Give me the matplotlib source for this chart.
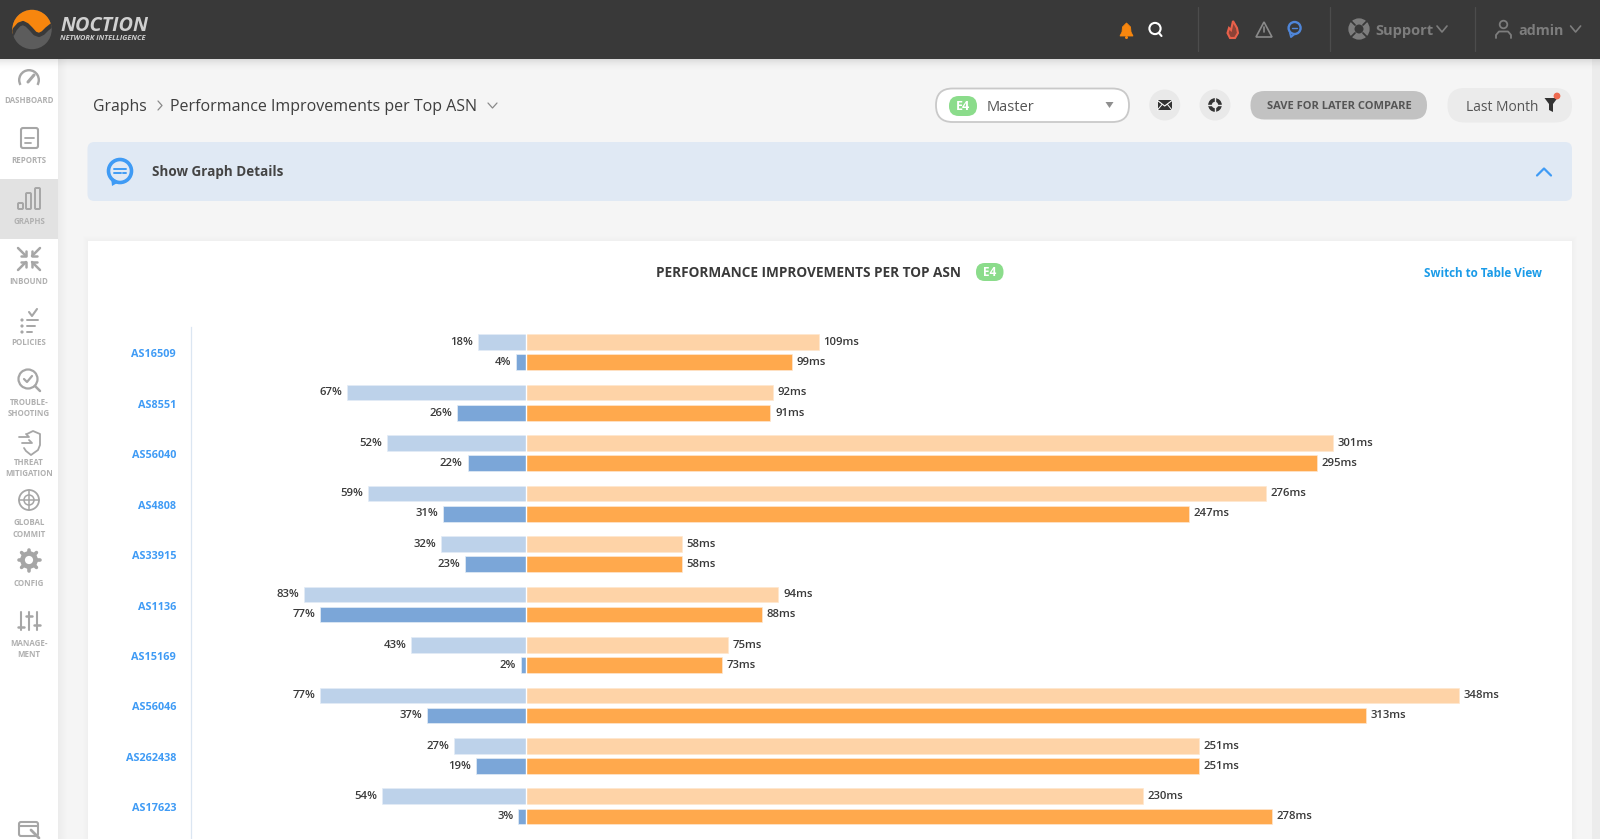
import numpy as np
from matplotlib import pyplot as plt
from matplotlib.patches import Circle, FancyBboxPatch, Polygon, Rectangle, Wedge
from matplotlib.transforms import ScaledTranslation

plt.rcParams["font.family"] = ["Open Sans", "DejaVu Sans"]

# chart values
asn_list = ["AS16509", "AS8551", "AS56040", "AS4808", "AS33915",
            "AS1136", "AS15169", "AS56046", "AS262438", "AS17623"]
pct_before = [18, 67, 52, 59, 32, 83, 43, 77, 27, 54]
pct_after = [4, 26, 22, 31, 23, 77, 2, 37, 19, 3]
ms_before = [109, 92, 301, 276, 58, 94, 75, 348, 251, 230]
ms_after = [99, 91, 295, 247, 58, 88, 73, 313, 251, 278]

side_labels = [("DASHBOARD", 100), ("REPORTS", 160), ("GRAPHS", 221), ("INBOUND", 281),
               ("POLICIES", 342), ("TROUBLE-", 402), ("SHOOTING", 413), ("THREAT", 462),
               ("MITIGATION", 473), ("GLOBAL", 522), ("COMMIT", 534), ("CONFIG", 583),
               ("MANAGE-", 643), ("MENT", 654)]

W, H = 1600, 839
ICON = "#a6a6a6"
HEAD = "#393939"

fig = plt.figure(figsize=(W / 100, H / 100), dpi=100, facecolor="#f5f5f5")

# page chrome lives in one full size axes, in pixels
bg = fig.add_axes([0, 0, 1, 1], zorder=1)
bg.set_xlim(0, W)
bg.set_ylim(H, 0)
bg.axis("off")


def box(x0, y0, x1, y1, color, r=0, ec="none", lw=0, z=2):
    if r:
        p = FancyBboxPatch((x0 + r, y0 + r), x1 - x0 - 2 * r, y1 - y0 - 2 * r,
                           boxstyle=f"round,pad={r}", fc=color, ec=ec, lw=lw, zorder=z)
    else:
        p = Rectangle((x0, y0), x1 - x0, y1 - y0, fc=color, ec=ec, lw=lw, zorder=z)
    bg.add_patch(p)


def label(x, y, s, size=9, color="#444444", weight="normal", ha="left", z=6, **kw):
    # open sans sits a bit high with va=center
    bg.text(x, y + 1.3, s, fontsize=size, color=color, fontweight=weight, ha=ha,
            va="center", zorder=z, **kw)


def line(xs, ys, color=ICON, lw=1.4, z=5):
    bg.plot(xs, ys, color=color, lw=lw, zorder=z, solid_capstyle="round",
            solid_joinstyle="round")


def ring(x, y, r, color=ICON, lw=1.4, fc="none", z=5):
    bg.add_patch(Circle((x, y), r, fc=fc, ec=color, lw=lw, zorder=z))


def chevron(x, y, w, h, color, lw=1.0, up=False, z=5):
    s = -1 if up else 1
    line([x - w, x, x + w], [y - s * h, y + s * h, y - s * h], color, lw, z)


def badge(x0, y0, x1, y1, size):
    box(x0, y0, x1, y1, "#8bdc8b", r=(y1 - y0) / 2 - 0.2, z=7)
    label((x0 + x1) / 2, (y0 + y1) / 2 - 1, "E4", size, "white", "bold", "center", z=8)


# card, side bar and header, with their soft shadows
box(88, 241, 1572, H + 5, "white")
for i in range(6):
    box(88 - 5 + i, 241 - 5 + i, 1572 + 5 - i, H + 5, "#000000", z=1.5)
    bg.patches[-1].set_alpha(0.004)
box(0, 58, 58, H, "white", z=3)
for i in range(9):
    box(58 + i, 58, 59 + i, H, "#000000", z=2.5)
    bg.patches[-1].set_alpha(0.035 * (1 - i / 9))
box(0, 179, 58, 239, "#e2e2e2", z=3.5)
box(1592, 58, 1600, H, "#ececec", z=3)
box(0, 0, W, 58.5, HEAD, z=9)
for i in range(12):
    box(0, 58.5 + i, W, 59.5 + i, "#000000", z=8)
    bg.patches[-1].set_alpha(0.10 * (1 - i / 12) ** 2)

# logo
logo = Circle((32, 29.5), 19.7, fc="#5c5c5c", ec="none", zorder=10)
bg.add_patch(logo)
wave_x = [12, 15, 19, 23, 27, 31, 35, 39, 43, 47, 52]
wave_y = [35, 29, 24.5, 23, 25, 29, 33.5, 35, 33, 29, 25]
top = Polygon(list(zip(wave_x, wave_y)) + [(52, 8), (12, 8)], fc="#f7860e", ec="none", zorder=11)
bg.add_patch(top)
top.set_clip_path(logo)
wave, = bg.plot(wave_x, wave_y, color=HEAD, lw=3, zorder=12)
wave.set_clip_path(logo)
label(60, 25, "NOCTION", 14.3, "#d0d0d0", "bold", z=12, style="italic")
label(60, 37, "NETWORK INTELLIGENCE", 5.3, "#d0d0d0", "bold", z=12, style="italic")

# header right side
for x in [1198, 1330, 1474.6]:
    line([x, x], [7, 51], "#4c4c4c", 0.9, z=10)
bg.add_patch(Polygon([(1120, 36), (1122, 32), (1122.5, 27), (1126.5, 23), (1130.5, 27),
                      (1131, 32), (1133, 36)], fc="#f7860e", ec="#f7860e", lw=0.6, zorder=10))
bg.add_patch(Circle((1126.5, 37.5), 1.5, fc="#f7860e", zorder=10))
ring(1155, 28.5, 5.6, "white", 1.5, z=10)
line([1159, 1161.5], [33, 36], "white", 1.5, z=10)
bg.add_patch(Polygon([(1233, 21), (1237, 28), (1238, 33), (1235, 38), (1230, 38), (1227.5, 33),
                      (1229, 28), (1231, 30)], fc="#8c4236", ec="#e8604a", lw=1.5, zorder=10))
bg.add_patch(Polygon([(1264, 22), (1272, 37), (1256, 37)], fc="none", ec="#8a8a8a", lw=1.2, zorder=10))
line([1264, 1264], [27, 32], "#8a8a8a", 1.2, z=10)
line([1264, 1264], [34.5, 34.8], "#8a8a8a", 1.2, z=10)
ring(1294.6, 28, 6, "#4f86d9", 1.7, z=10)
line([1290, 1291, 1294], [33, 37, 34.5], "#4f86d9", 1.4, z=10)
line([1292, 1297], [28, 28], "#4f86d9", 1.0, z=10)
ring(1359, 29, 7.6, "#7d7d7d", 4.4, z=10)
for sx in [-1, 1]:
    for sy in [-1, 1]:
        line([1359 + sx * 4, 1359 + sx * 7.5], [29 + sy * 4, 29 + sy * 7.5], HEAD, 1.3, z=10.5)
label(1375, 29.6, "Support", 10.5, "#7d7d7d", "bold", z=10)
chevron(1442, 29, 5, 3, "#7d7d7d", 1.2, z=10)
ring(1503.5, 24.5, 3.8, "#7d7d7d", 1.3, z=10)
line([1496, 1496, 1499, 1508, 1511, 1511], [38, 35, 31.5, 31.5, 35, 38], "#7d7d7d", 1.3, z=10)
label(1518.5, 29.6, "admin", 10.3, "#7d7d7d", "bold", z=10)
chevron(1575.6, 29, 5, 3, "#7d7d7d", 1.2, z=10)

# breadcrumb and toolbar
label(92.5, 105.8, "Graphs", 11.3, "#3f3f3f")
line([158, 162, 158], [101, 105.5, 110], "#8a8a8a", 0.9)
label(170.5, 105.8, "Performance Improvements per Top ASN", 11.55, "#3f3f3f")
chevron(492.5, 105.5, 4.5, 2.5, "#8a8a8a", 0.9)

box(936, 88.5, 1129, 122, "white", r=16.5, ec="#c9c9c9", lw=1.3)
badge(949, 96, 977, 116, 9)
label(987, 106, "Master", 10.5, "#555555")
bg.add_patch(Polygon([(1105.5, 102), (1113.5, 102), (1109.5, 108)], fc="#8f8f8f", zorder=5))
for cx in [1164.7, 1215]:
    bg.add_patch(Circle((cx, 105), 15.5, fc="#e9e9e9", zorder=4))
box(1157.5, 100, 1172, 110, "#333333", z=5)
line([1157.5, 1164.7, 1172], [100.5, 106, 100.5], "white", 0.8, z=6)
line([1157.5, 1162], [110, 104.5], "white", 0.7, z=6)
line([1172, 1167.5], [110, 104.5], "white", 0.7, z=6)
ring(1215, 105, 5, "#333333", 2.6)
line([1215, 1215], [98, 112], "#e9e9e9", 1.0, z=6)
line([1208, 1222], [105, 105], "#e9e9e9", 1.0, z=6)
box(1250.5, 91, 1427, 119.5, "#c2c2c2", r=14)
label(1339, 105, "SAVE FOR LATER COMPARE", 8.0, "#555555", "bold", "center")
box(1447.5, 88, 1572, 122.5, "#ebebeb", r=17)
label(1466, 106, "Last Month", 9.9, "#555555")
bg.add_patch(Polygon([(1544.5, 98), (1557.5, 98), (1553, 104), (1553, 112), (1549, 110), (1549, 104)],
                     fc="#333333", zorder=5))
bg.add_patch(Circle((1557, 96), 3.4, fc="#ee6a50", zorder=6))

# details panel
box(87.5, 142, 1572, 201, "#e0e9f4", r=7)
ring(120, 171, 11.5, "#3f9bf5", 2.6)
bg.add_patch(Polygon([(111, 177), (112, 186), (119, 182)], fc="#3f9bf5", zorder=5))
line([114, 126], [168.5, 168.5], "#3f9bf5", 1.4)
line([114, 121], [173, 173], "#3f9bf5", 1.4)
line([123, 126], [173, 173], "#3f9bf5", 1.4)
label(151.5, 170.8, "Show Graph Details", 9.75, "#444444", "bold")
chevron(1544, 172, 7, 3.5, "#3f9bf5", 1.6, up=True)

# card header
label(808, 271.3, "PERFORMANCE IMPROVEMENTS PER TOP ASN", 9.8, "#3a3a3a", "bold", "center")
badge(976, 263, 1003.5, 281, 8.5)
label(1542, 271.8, "Switch to Table View", 8.4, "#1a9be8", "bold", "right")

# side bar icons
for s, y in side_labels:
    label(29, y - 1, s, 5.7, "#b0b0b0", "bold", "center")
bg.add_patch(Wedge((29, 80), 11, 150, 390, width=2.4, fc=ICON, ec="none", zorder=5))
line([28, 34], [82, 75], ICON, 2.2)
box(21, 128, 38, 148, "white", r=2, ec=ICON, lw=1.5, z=5)
line([25, 34], [138, 138], ICON, 1.3)
line([25, 31], [143, 143], ICON, 1.3)
for x0, y0 in [(18, 203), (26, 193), (35, 188)]:
    box(x0, y0, x0 + 5, 209, "none", r=1, ec=ICON, lw=1.4, z=5)
for sx in [-1, 1]:
    for sy in [-1, 1]:
        line([29 + sx * 3, 29 + sx * 11], [259 + sy * 3, 259 + sy * 11], ICON, 1.8)
        line([29 + sx * 3, 29 + sx * 3, 29 + sx * 8], [259 + sy * 8, 259 + sy * 3, 259 + sy * 3], ICON, 1.8)
for y in [320, 326, 332]:
    bg.add_patch(Circle((22, y), 1.6, fc=ICON, zorder=5))
    line([27, 38 - (y - 320) / 2], [y, y], ICON, 1.4)
line([29, 32, 37], [312, 316, 309], ICON, 1.5)
ring(28, 379, 9.5, ICON, 1.6)
line([35, 40], [386, 391], ICON, 1.8)
line([24, 27, 32], [379, 382, 376], ICON, 1.6)
line([27, 33, 40, 40, 38, 31, 26, 24], [434, 431, 434, 445, 450, 455, 451, 448], ICON, 1.3)
line([19, 29, 26], [437, 437, 434], ICON, 1.3)
line([22, 32, 29], [443, 443, 440], ICON, 1.3)
ring(29, 500, 10, ICON, 1.3)
bg.add_patch(Circle((29, 500), 5, fc="none", ec=ICON, lw=1.1, zorder=5))
line([19, 39], [500, 500], ICON, 1.1)
line([29, 29], [490, 510], ICON, 1.1)
ring(29, 560, 6.5, ICON, 3.4)
for a in np.arange(0, 360, 45):
    t = np.radians(a)
    line([29 + 8 * np.cos(t), 29 + 10.5 * np.cos(t)], [560 + 8 * np.sin(t), 560 + 10.5 * np.sin(t)], ICON, 2.6)
for x, knob in [(21, 627), (29, 616), (37, 625)]:
    line([x, x], [612, 630], ICON, 1.5)
    line([x - 3, x + 3], [knob, knob], ICON, 1.8)
box(19, 822, 38, 836, "white", r=2, ec=ICON, lw=1.5, z=5)
line([19, 38], [826, 826], ICON, 1.5)
line([31, 39], [830, 838], ICON, 2)

# the chart itself, left side in %, right side in ms, same scale for both
ax = fig.add_axes([191.4 / W, 0, (1572 - 191.4) / W, (H - 327) / H], zorder=2)
ax.patch.set_alpha(0)
ax.set_xlim(-125, 390)
ax.set_ylim(9.647, -0.5)
y_pos = np.arange(len(asn_list))
bar_h = 0.31
off = 0.2

ax.barh(y_pos - off, -np.array(pct_before), bar_h, color="#bdd2ea", edgecolor="#e3ecf6", lw=0.5)
ax.barh(y_pos + off, -np.array(pct_after), bar_h, color="#7ba6d8", edgecolor="#e3ecf6", lw=0.5)
ax.barh(y_pos - off, ms_before, bar_h, color="#fed3a7", edgecolor="#fee7cf", lw=0.5)
ax.barh(y_pos + off, ms_after, bar_h, color="#ffa94d", edgecolor="#fee7cf", lw=0.5)
ax.axvline(0, color="white", lw=1.0, zorder=3)

for i in y_pos:
    for yy, pct, ms in [(i - off, pct_before[i], ms_before[i]), (i + off, pct_after[i], ms_after[i])]:
        ax.annotate(f"{pct}%", (-pct, yy), xytext=(-3.5, -0.2), textcoords="offset points",
                    ha="right", va="center", fontsize=8.2, color="#3a3a3a", fontweight="semibold")
        ax.annotate(f"{ms}ms", (ms, yy), xytext=(3.3, -0.2), textcoords="offset points",
                    ha="left", va="center", fontsize=8.2, color="#3a3a3a", fontweight="semibold")

ax.set_yticks(y_pos)
ax.set_yticklabels(asn_list, fontsize=7.8, color="#3f9bf5", fontweight="bold")
ax.tick_params(axis="y", length=0, pad=11)
shift = ScaledTranslation(0, -1 / 100, fig.dpi_scale_trans)
for t in ax.get_yticklabels():
    t.set_transform(t.get_transform() + shift)
ax.set_xticks([])
for side in ["top", "right", "bottom"]:
    ax.spines[side].set_visible(False)
ax.spines["left"].set_color("#dbe6f2")
ax.spines["left"].set_linewidth(0.9)

fig.savefig("out.png", dpi=100, facecolor=fig.get_facecolor())
